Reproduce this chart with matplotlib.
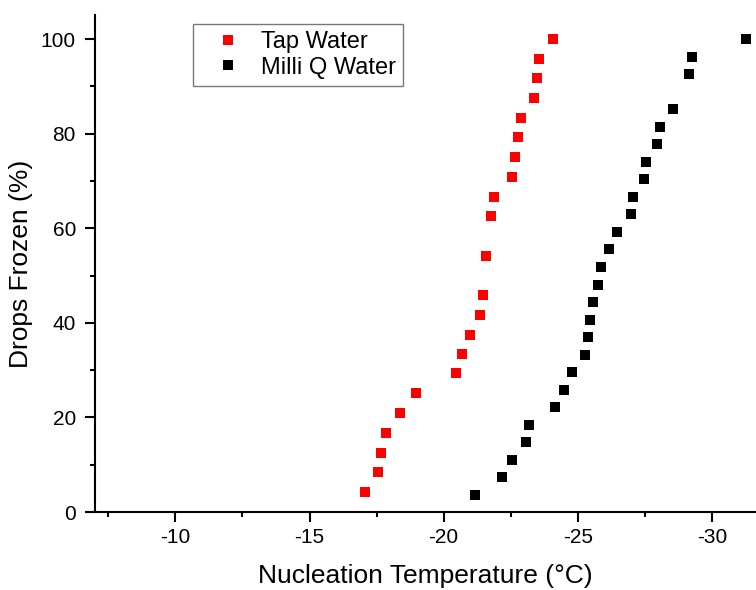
import matplotlib.pyplot as plt
from matplotlib.ticker import MultipleLocator

plt.rcParams['font.family'] = ['Liberation Sans', 'DejaVu Sans']
plt.rcParams['axes.unicode_minus'] = False

# Tap water: nucleation temperature (degC) and cumulative frozen fraction (%)
tap_temp = [-17.08, -17.57, -17.67, -17.87, -18.37, -18.97, -20.47, -20.67,
            -20.97, -21.37, -21.48, -21.57, -21.77, -21.87, -22.56, -22.68,
            -22.77, -22.87, -23.37, -23.47, -23.57, -24.07]
tap_pct = [4.2, 8.4, 12.5, 16.7, 20.9, 25.1, 29.3, 33.4, 37.5, 41.7, 45.8,
           54.2, 62.5, 66.7, 70.9, 75.0, 79.2, 83.3, 87.5, 91.7, 95.8, 100.0]

# Milli Q water
mq_temp = [-21.18, -22.16, -22.56, -23.07, -23.17, -24.17, -24.48, -24.78,
           -25.27, -25.37, -25.47, -25.57, -25.77, -25.87, -26.17, -26.47,
           -26.97, -27.07, -27.46, -27.56, -27.96, -28.06, -28.56, -29.17,
           -29.27, -31.26]
mq_pct = [3.7, 7.4, 11.1, 14.8, 18.5, 22.2, 25.9, 29.6, 33.3, 37.0, 40.7,
          44.4, 48.1, 51.9, 55.6, 59.3, 63.0, 66.7, 70.4, 74.1, 77.8, 81.5,
          85.2, 92.6, 96.3, 100.0]

fig = plt.figure(figsize=(7.56, 5.90), dpi=100)
ax = fig.add_axes([95 / 756, 78 / 590, (756 - 95) / 756, 497 / 590])

ax.plot(tap_temp, tap_pct, 's', color='#ff0000', markersize=7.6,
        markeredgewidth=0, label='Tap Water')
ax.plot(mq_temp, mq_pct, 's', color='black', markersize=7.6,
        markeredgewidth=0, label='Milli Q Water')

ax.set_xlim(-7, -31.65)
ax.set_ylim(0, 105.1)
ax.xaxis.set_major_locator(MultipleLocator(5))
ax.xaxis.set_minor_locator(MultipleLocator(2.5))
ax.yaxis.set_major_locator(MultipleLocator(20))
ax.yaxis.set_minor_locator(MultipleLocator(10))

ax.spines['top'].set_visible(False)
ax.spines['right'].set_visible(False)
ax.spines['left'].set_linewidth(1.5)
ax.spines['bottom'].set_linewidth(1.5)
ax.tick_params(which='major', direction='out', length=7.2, width=1.5,
               labelsize=15)
ax.tick_params(which='minor', direction='out', length=3.6, width=1.5)
ax.tick_params(axis='x', which='major', pad=4.5)
ax.tick_params(axis='y', which='major', pad=6.5)

ax.set_xlabel('Nucleation Temperature (°C)', fontsize=19, labelpad=12)
ax.set_ylabel('Drops Frozen (%)', fontsize=19, labelpad=6)

leg = ax.legend(loc='upper left', bbox_to_anchor=(0.148, 0.982),
                borderaxespad=0, fontsize=17, frameon=True, fancybox=False,
                edgecolor='#555555', handletextpad=0.2, borderpad=0.3,
                labelspacing=0.15, handlelength=2.4, markerscale=1.0)
leg.get_frame().set_linewidth(1.0)

fig.savefig('out.png', dpi=100)
